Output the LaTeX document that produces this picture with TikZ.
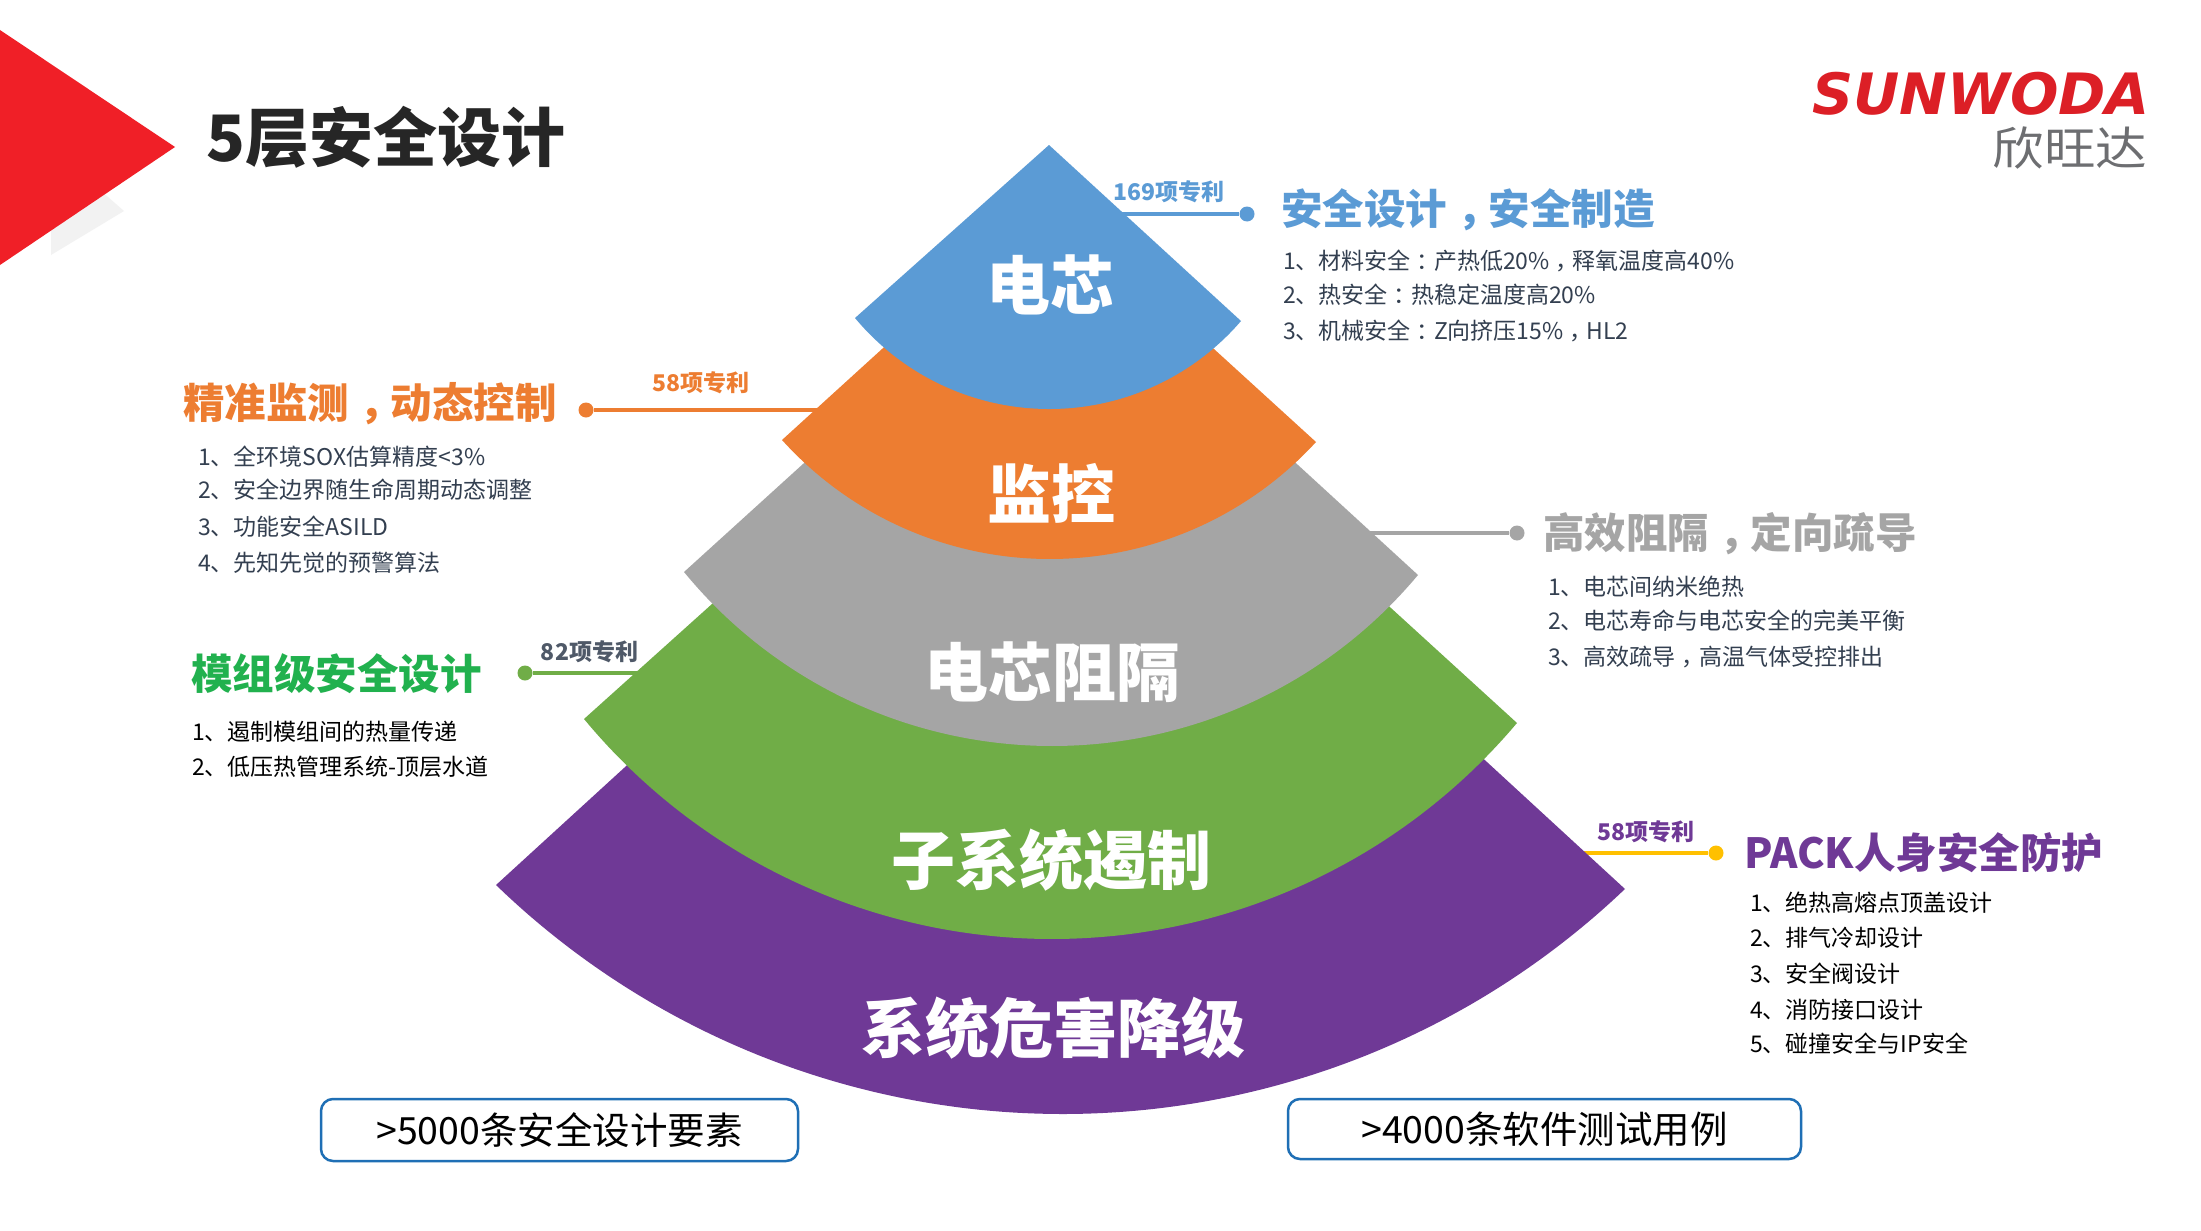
\documentclass[tikz,border=0pt]{standalone}
\usepackage{fontspec}
\setmainfont{Noto Sans CJK SC}
\newfontfamily\logolat[BoldItalicFont={DejaVu Sans Bold Oblique}]{DejaVu Sans}
\newfontfamily\logocn[AutoFakeSlant=0.18,FakeStretch=1.12]{Noto Sans CJK SC}
\definecolor{cblue}{HTML}{5B9BD5}
\definecolor{corange}{HTML}{ED7D31}
\definecolor{cgray}{HTML}{A5A5A5}
\definecolor{cgreen}{HTML}{70AD47}
\definecolor{cpurple}{HTML}{6F3996}
\definecolor{chgreen}{HTML}{21B14E}
\definecolor{cyellow}{HTML}{FFC000}
\definecolor{cred}{HTML}{F01F27}
\definecolor{cdark}{HTML}{333F50}
\definecolor{cslate}{HTML}{4F5968}
\definecolor{cbox}{HTML}{1F6FB5}
\definecolor{ctitle}{HTML}{262626}
\definecolor{clogored}{HTML}{DC1F26}
\definecolor{clogogray}{HTML}{6D6E71}
\newcommand{\fpx}[1]{\fontsize{#1pt}{#1pt}\selectfont}
% full-width punctuation sitting in the middle of its cell
\newcommand{\midp}[1]{\kern.26em#1\kern-.26em}
% colour, top-left, L x, L y, R x, R y, top-right, sag
\newcommand{\fanlayer}[8]{%
  \pgfmathsetmacro\fmx{(#3+#5)/2}%
  \pgfmathsetmacro\fmy{(#4+#6)/2}%
  \pgfmathsetmacro\fhw{veclen(#5-#3,#6-#4)/2}%
  \pgfmathsetmacro\fth{atan2(#6-#4,#5-#3)}%
  \pgfmathsetmacro\frr{\fhw*(\fhw/(2*#8))+#8/2}%
  \pgfmathsetmacro\fcx{\fmx+(\frr-#8)*sin(\fth)}%
  \pgfmathsetmacro\fcy{\fmy-(\frr-#8)*cos(\fth)}%
  \pgfmathsetmacro\faL{atan2(#4-\fcy,#3-\fcx)}%
  \pgfmathsetmacro\faR{atan2(#6-\fcy,#5-\fcx)}%
  \fill[#1] (#2) -- (#3,#4) -- plot[domain=\faL:\faR,samples=90,smooth] ({\fcx+\frr*cos(\x)},{\fcy+\frr*sin(\x)}) -- (#5,#6) -- (#7) -- cycle;%
}
\tikzset{
  x=1pt,y=-1pt,
  layerlabel/.style={inner sep=0pt,text=white,font=\fpx{64}\bfseries},
  heading/.style={inner sep=0pt,anchor=west,font=\fpx{41.5}\bfseries},
  patent/.style={inner sep=0pt,font=\fpx{23}\bfseries},
  item/.style={inner sep=0pt,anchor=west,font=\fpx{23},text=cdark},
  itemblack/.style={inner sep=0pt,anchor=west,font=\fpx{23},text=black},
  leader/.style={line width=3.5pt},
  enddot/.style={circle,inner sep=0pt,minimum size=15pt},
  countbox/.style={draw=cbox,line width=2.5pt,rounded corners=12pt,fill=white,inner sep=0pt,font=\fpx{37.5},text=black},
}
\begin{document}
\begin{tikzpicture}
\useasboundingbox (0,0) rectangle (2201,1231);
\fill[white] (0,0) rectangle (2201,1231);
% header
\fill[black!5] (51,255) -- (124,211) -- (100,190) -- (51,220) -- cycle;
\fill[cred] (0,30) -- (175,147) -- (0,265) -- cycle;
\node[inner sep=0pt,anchor=west,text=ctitle,font=\fpx{64}\bfseries] (title) at (206,137) {5层安全设计};
% logo
\node[inner sep=0pt,anchor=center,text=clogored,font=\fpx{57}\logolat\bfseries\itshape] (logoen) at (1981,94) {SUNWODA};
\node[inner sep=0pt,anchor=center,text=clogogray,font=\fpx{46}\logocn] (logocn) at (2070,148) {欣旺达};
% leaders, under the layers they start from
\coordinate (e1) at (1115,214);
\coordinate (e2) at (825,410);
\coordinate (e3) at (1360,533);
\coordinate (e4) at (645,673);
\coordinate (e5) at (1575,853);
\node[enddot,fill=cblue] (d1) at (1247,214) {};
\node[enddot,fill=corange] (d2) at (586,410) {};
\node[enddot,fill=cgray] (d3) at (1517,533) {};
\node[enddot,fill=cgreen] (d4) at (525,673) {};
\node[enddot,fill=cyellow] (d5) at (1716,853) {};
\draw[leader,cblue] (e1) -- (d1);
\draw[leader,corange] (e2) -- (d2);
\draw[leader,cgray,line width=4pt] (e3) -- (d3);
\draw[leader,cgreen] (e4) -- (d4);
\draw[leader,cyellow] (e5) -- (d5);
% pyramid, bottom layer first
\fanlayer{cpurple}{636,757}{496}{885}{1625}{889}{1475,751}{227}
\fanlayer{cgreen}{722,595}{584}{719}{1517}{723}{1380,598}{218}
\fanlayer{cgray}{814,454}{684}{572}{1418}{575}{1286,454}{172.5}
\fanlayer{corange}{893,339}{782}{440}{1316}{442}{1203,339}{118}
\fanlayer{cblue}{1049,145}{855}{318}{1241}{321}{1049,145}{89.5}
\node[layerlabel] (l1) at (1050,285) {电芯};
\node[layerlabel] (l2) at (1051,493) {监控};
\node[layerlabel] (l3) at (1052,672) {电芯阻隔};
\node[layerlabel] (l4) at (1051,860) {子系统遏制};
\node[layerlabel] (l5) at (1053,1028) {系统危害降级};
% patents
\node[patent,text=cblue] (p1) at (1168.5,192) {169项专利};
\node[patent,text=corange] (p2) at (700.5,383) {58项专利};
\node[patent,text=cslate] (p4) at (589.5,652) {82项专利};
\node[patent,text=cpurple] (p5) at (1646,832) {58项专利};
% cell
\node[heading,text=cblue] (h1) at (1281,210) {安全设计\midp{，}安全制造};
\node[item] (i11) at (1283,261) {1、材料安全\midp{：}产热低20\%\midp{，}释氧温度高40\%};
\node[item] (i12) at (1283,295) {2、热安全\midp{：}热稳定温度高20\%};
\node[item] (i13) at (1283,331) {3、机械安全\midp{：}Z向挤压15\%\midp{，}HL2};
% monitor
\node[heading,text=corange] (h2) at (183,404) {精准监测\midp{，}动态控制};
\node[item] (i21) at (198,457) {1、全环境SOX估算精度<3\%};
\node[item] (i22) at (198,490) {2、安全边界随生命周期动态调整};
\node[item] (i23) at (198,527) {3、功能安全ASILD};
\node[item] (i24) at (198,563) {4、先知先觉的预警算法};
% barrier
\node[heading,text=cgray] (h3) at (1543,534) {高效阻隔\midp{，}定向疏导};
\node[item] (i31) at (1548,587) {1、电芯间纳米绝热};
\node[item] (i32) at (1548,621) {2、电芯寿命与电芯安全的完美平衡};
\node[item] (i33) at (1548,657) {3、高效疏导\midp{，}高温气体受控排出};
% module
\node[heading,text=chgreen] (h4) at (191,674) {模组级安全设计};
\node[itemblack] (i41) at (192,732) {1、遏制模组间的热量传递};
\node[itemblack] (i42) at (192,767) {2、低压热管理系统-顶层水道};
% pack
\node[heading,text=cpurple] (h5) at (1744,853) {PACK人身安全防护};
\node[itemblack] (i51) at (1750,903) {1、绝热高熔点顶盖设计};
\node[itemblack] (i52) at (1750,938) {2、排气冷却设计};
\node[itemblack] (i53) at (1750,974) {3、安全阀设计};
\node[itemblack] (i54) at (1750,1010) {4、消防接口设计};
\node[itemblack] (i55) at (1750,1044) {5、碰撞安全与IP安全};
% boxes
\node[countbox,minimum width=477pt,minimum height=62pt] (b1) at (559.5,1130) {>5000条安全设计要素};
\node[countbox,minimum width=513pt,minimum height=60pt] (b2) at (1544.5,1129) {>4000条软件测试用例};
\end{tikzpicture}
\end{document}
